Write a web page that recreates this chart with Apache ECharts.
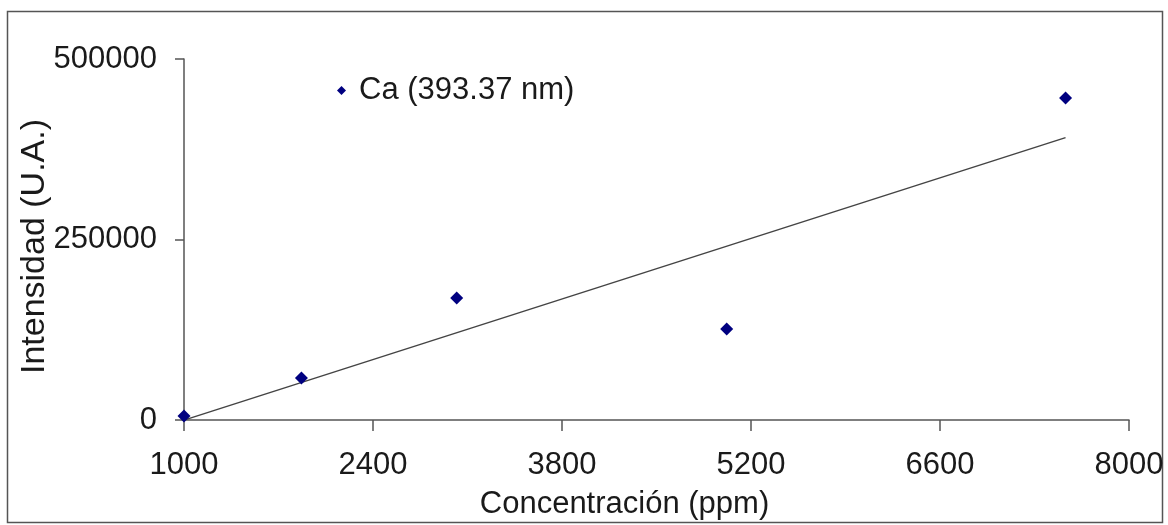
<!DOCTYPE html>
<html>
<head>
<meta charset="utf-8">
<script src="https://cdn.jsdelivr.net/npm/echarts@6/dist/echarts.min.js"></script>
<style>
html,body{margin:0;padding:0;background:#fff;}
#chart{width:1168px;height:525px;}
</style>
</head>
<body>
<div id="chart"></div>
<script>
// Data
const concentrations = [1000, 1870, 3020, 5020, 7530];
const intensities = [5500, 58000, 169000, 126000, 446000];
const xTicks = [1000, 2400, 3800, 5200, 6600, 8000];
const yTicks = [0, 250000, 500000];
const seriesName = 'Ca (393.37 nm)';

// Linear least-squares trendline over the data range
function linearFit(xs, ys) {
  const n = xs.length;
  const mx = xs.reduce((a, b) => a + b, 0) / n;
  const my = ys.reduce((a, b) => a + b, 0) / n;
  let sxy = 0, sxx = 0;
  for (let i = 0; i < n; i++) {
    sxy += (xs[i] - mx) * (ys[i] - my);
    sxx += (xs[i] - mx) * (xs[i] - mx);
  }
  const slope = sxy / sxx;
  return { slope, intercept: my - slope * mx };
}
const fit = linearFit(concentrations, intensities);
const xMin = Math.min(...concentrations), xMax = Math.max(...concentrations);
const trend = [[xMin, fit.intercept + fit.slope * xMin], [xMax, fit.intercept + fit.slope * xMax]];

const font = 'Liberation Sans, Arial, sans-serif';
const axisColor = '#555555';
const textColor = '#1a1a1a';
const plain = v => String(v);

const chart = echarts.init(document.getElementById('chart'), null, { renderer: 'canvas' });
chart.setOption({
  backgroundColor: '#ffffff',
  animation: false,
  textStyle: { fontFamily: font },
  graphic: [{
    type: 'rect',
    shape: { x: 7.5, y: 11.5, width: 1155, height: 511 },
    style: { fill: 'none', stroke: '#555555', lineWidth: 1.5 },
    silent: true, z: -1
  }],
  grid: { left: 184, right: 39, top: 59, bottom: 105, containLabel: false, outerBoundsMode: 'none' },
  legend: {
    data: [{ name: seriesName, icon: 'diamond' }],
    left: 332, top: 70,
    itemWidth: 9, itemHeight: 9,
    textStyle: { fontSize: 31, color: textColor, fontFamily: font, padding: [0, 0, 0, 8] }
  },
  xAxis: {
    type: 'value', min: 1000, max: 8000,
    name: 'Concentración (ppm)', nameLocation: 'middle', nameGap: 69, nameMoveOverlap: false,
    nameTextStyle: { fontSize: 31, color: textColor, fontFamily: font, padding: [0, 64, 0, 0] },
    axisLine: { show: true, lineStyle: { color: axisColor, width: 1.5 } },
    axisTick: { show: true, inside: false, length: 11, customValues: xTicks, lineStyle: { color: axisColor, width: 1.5 } },
    axisLabel: { customValues: xTicks, fontSize: 31, color: textColor, margin: 30, fontFamily: font, formatter: plain },
    splitLine: { show: false }
  },
  yAxis: {
    type: 'value', min: 0, max: 500000, interval: 250000,
    name: 'Intensidad (U.A.)', nameLocation: 'middle', nameGap: 132, nameRotate: 90, nameMoveOverlap: false,
    nameTextStyle: { fontSize: 34, color: textColor, fontFamily: font, padding: [0, 14, 0, 0] },
    axisLine: { show: true, lineStyle: { color: axisColor, width: 1.5 } },
    axisTick: { show: true, inside: false, length: 9, lineStyle: { color: axisColor, width: 1.5 } },
    axisLabel: { fontSize: 31, color: textColor, margin: 27, fontFamily: font, customValues: yTicks, formatter: plain },
    splitLine: { show: false }
  },
  series: [{
    name: seriesName,
    type: 'scatter',
    symbol: 'diamond',
    symbolSize: 13,
    itemStyle: { color: '#000080', opacity: 1 },
    data: concentrations.map((c, i) => [c, intensities[i]]),
    z: 3
  }, {
    name: 'trend',
    type: 'line',
    data: trend,
    symbol: 'none',
    lineStyle: { color: '#444444', width: 1.5 },
    z: 2
  }]
});
</script>
</body>
</html>
